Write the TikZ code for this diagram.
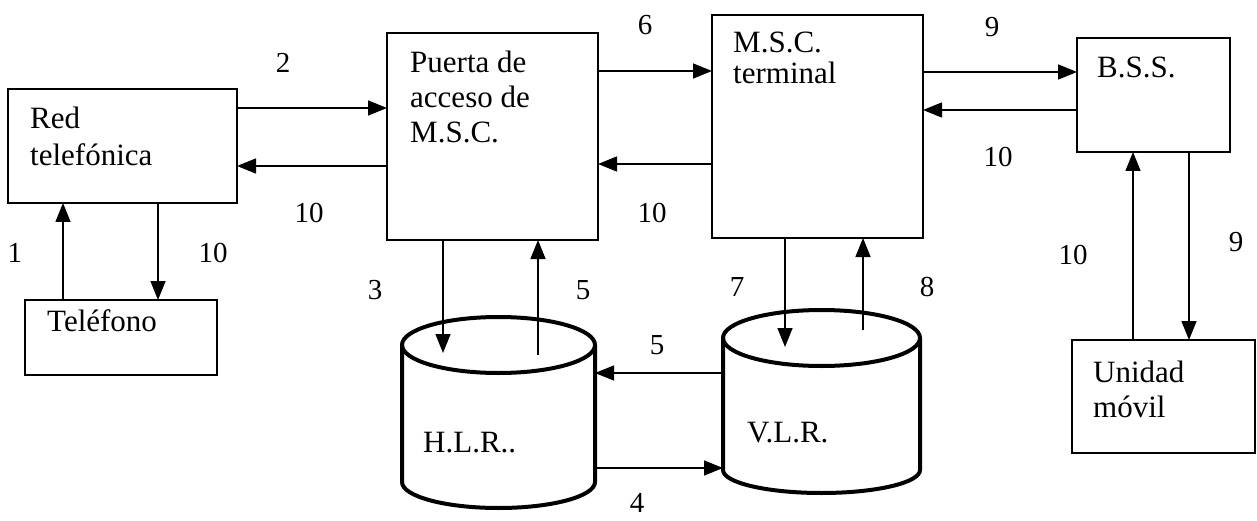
\documentclass[tikz,border=0pt]{standalone}
\usepackage{fontspec}
\setmainfont{Liberation Serif}
\usetikzlibrary{arrows.meta}
\begin{document}
\begin{tikzpicture}[x=1pt,y=-1pt,
  box/.style={draw,line width=2pt,inner sep=0pt,outer sep=0pt},
  body/.style={inner sep=0pt,outer sep=0pt},
  cyl/.style={line width=4pt,line join=round},
  txt/.style={anchor=north west,inner sep=0pt,align=left,font=\fontsize{31}{35}\selectfont},
  lbl/.style={inner sep=0pt,font=\fontsize{29}{33}\selectfont},
  arr/.style={line width=1.5pt,-{Triangle[length=19pt,width=15pt]}}]
\useasboundingbox[fill=white] (0,0) rectangle (1257,521);
% boxes
\node[box,minimum width=229pt,minimum height=114pt] (red) at (122.5,146) {};
\node[box,minimum width=192pt,minimum height=75pt] (tel) at (121,337.5) {};
\node[box,minimum width=211pt,minimum height=207pt] (puerta) at (492.5,136.5) {};
\node[box,minimum width=211pt,minimum height=223pt] (msc) at (817.5,126.5) {};
\node[box,minimum width=153pt,minimum height=114pt] (bss) at (1153.5,95) {};
\node[box,minimum width=183pt,minimum height=113pt] (uni) at (1163.5,396.5) {};
% cylinders
\node[body,minimum width=193pt,minimum height=137pt] (hlr) at (498.5,413.5) {};
\draw[cyl] (402,345) -- (402,482) arc[start angle=180,end angle=360,x radius=96.5pt,y radius=26pt] -- (595,345);
\draw[cyl] (498.5,345) ellipse[x radius=96.5pt,y radius=28pt];
\node[body,minimum width=197pt,minimum height=132pt] (vlr) at (821.5,404) {};
\draw[cyl] (723,338) -- (723,470) arc[start angle=180,end angle=360,x radius=98.5pt,y radius=23pt] -- (920,338);
\draw[cyl] (821.5,338) ellipse[x radius=98.5pt,y radius=28pt];
% texts
\node[txt,font=\fontsize{31}{37}\selectfont] (tred) at (30,107) {Red\\telef\'onica};
\node[txt] (ttel) at (47,309) {Tel\'efono};
\node[txt,font=\fontsize{31}{35}\selectfont] (tpuerta) at (410,51) {Puerta de\\acceso de\\M.S.C.};
\node[txt,font=\fontsize{31}{31}\selectfont] (tmsc) at (733,32) {M.S.C.\\terminal};
\node[txt] (tbss) at (1097,57) {B.S.S.};
\node[txt] (tuni) at (1093,361) {Unidad\\m\'ovil};
\node[txt] (thlr) at (423,432) {H.L.R..};
\node[txt] (tvlr) at (747,422) {V.L.R.};
% helper coordinates
\coordinate (y2) at (0,108);
\coordinate (y10a) at (0,166);
\coordinate (y6) at (0,71);
\coordinate (y10b) at (0,164);
\coordinate (y9) at (0,72);
\coordinate (y10c) at (0,110);
\coordinate (x1) at (63,0);
\coordinate (x10d) at (158,0);
\coordinate (h3) at (443,353);
\coordinate (h5) at (538,355);
\coordinate (v7) at (785,347);
\coordinate (v8) at (863,330);
\coordinate (y5) at (0,373);
\coordinate (y4) at (0,468);
\coordinate (x10e) at (1133,0);
\coordinate (x9) at (1189,0);
% connectors
\draw[arr] (red.east |- y2) -- (puerta.west |- y2);
\draw[arr] (puerta.west |- y10a) -- (red.east |- y10a);
\draw[arr] (puerta.east |- y6) -- (msc.west |- y6);
\draw[arr] (msc.west |- y10b) -- (puerta.east |- y10b);
\draw[arr] (msc.east |- y9) -- (bss.west |- y9);
\draw[arr] (bss.west |- y10c) -- (msc.east |- y10c);
\draw[arr] (tel.north -| x1) -- (red.south -| x1);
\draw[arr] (red.south -| x10d) -- (tel.north -| x10d);
\draw[arr] (puerta.south -| h3) -- (h3);
\draw[arr] (h5) -- (puerta.south -| h5);
\draw[arr] (msc.south -| v7) -- (v7);
\draw[arr] (v8) -- (msc.south -| v8);
\draw[arr] (vlr.west |- y5) -- (hlr.east |- y5);
\draw[arr] (hlr.east |- y4) -- (vlr.west |- y4);
\draw[arr] (uni.north -| x10e) -- (bss.south -| x10e);
\draw[arr] (bss.south -| x9) -- (uni.north -| x9);
% labels
\node[lbl] (l2) at (283,63) {2};
\node[lbl] (l10a) at (309,213) {10};
\node[lbl] (l1) at (15,253) {1};
\node[lbl] (l10d) at (213,253) {10};
\node[lbl] (l6) at (645,25) {6};
\node[lbl] (l10b) at (652,213) {10};
\node[lbl] (l9) at (992,27) {9};
\node[lbl] (l10c) at (998,157) {10};
\node[lbl] (l3) at (375,290) {3};
\node[lbl] (l5a) at (583,290) {5};
\node[lbl] (l7) at (737,287) {7};
\node[lbl] (l8) at (927,287) {8};
\node[lbl] (l5b) at (657,345) {5};
\node[lbl] (l4) at (637,503) {4};
\node[lbl] (l10e) at (1073,255) {10};
\node[lbl] (l9b) at (1236,242) {9};
\end{tikzpicture}
\end{document}
